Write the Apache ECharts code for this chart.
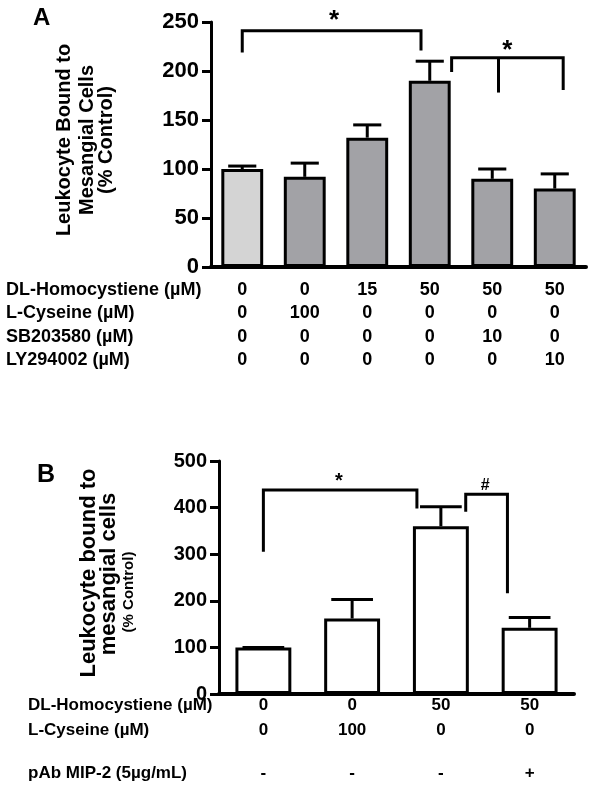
<!DOCTYPE html>
<html><head><meta charset="utf-8">
<script src="https://cdn.jsdelivr.net/npm/echarts@6/dist/echarts.min.js"></script>
<style>html,body{margin:0;padding:0;background:#fff}#c{width:600px;height:805px}</style>
</head><body><div id="c"></div>
<script>
// ---------- Panel A data ----------
const groupsA = ['A1', 'A2', 'A3', 'A4', 'A5', 'A6'];
const meanA = [100, 92, 132, 190, 90, 80];
const errTopA = [103, 106, 145, 210, 100, 95];
const rowLabelsA = ['DL-Homocystiene (\u00B5M)', 'L-Cyseine (\u00B5M)', 'SB203580 (\u00B5M)', 'LY294002 (\u00B5M)'];
const homA = ['0', '0', '15', '50', '50', '50'];
const cysA = ['0', '100', '0', '0', '0', '0'];
const sbA = ['0', '0', '0', '0', '10', '0'];
const lyA = ['0', '0', '0', '0', '0', '10'];
const titleA = ['Leukocyte Bound to', 'Mesangial Cells', '(% Control)'];
// brackets: x in category units, y in data units
const bracketsA = [
  { x1: 0, x2: 2.86, top: 241, y1: 219, y2: 221, mark: '*', sx: 1.47, sy: 257 },
  { x1: 3.35, x2: 5.135, top: 213.6, y1: 199, y2: 180.6, xm: 4.10, ym: 178, mark: '*', sx: 4.24, sy: 226.5 }
];

// ---------- Panel B data ----------
const groupsB = ['B1', 'B2', 'B3', 'B4'];
const meanB = [100, 162, 360, 142];
const errTopB = [100, 203, 402, 164];
const rowLabelsB = ['DL-Homocystiene (\u00B5M)', 'L-Cyseine (\u00B5M)', 'pAb MIP-2 (5\u00B5g/mL)'];
const homB = ['0', '0', '50', '50'];
const cysB = ['0', '100', '0', '0'];
const mipB = ['-', '-', '-', '+'];
const titleB = ['Leukocyte bound to', 'mesangial cells', '(% Control)'];
const bracketsB = [
  { x1: 0, x2: 1.73, top: 437.8, y1: 305, y2: 398, mark: '*', sx: 0.85, sy: 466 },
  { x1: 2.28, x2: 2.75, top: 428.5, y1: 391, y2: 216, mark: '#', sx: 2.50, sy: 448 }
];

const FF = '"Liberation Sans", Arial, sans-serif';

function errRender(capFrac) {
  return function (params, api) {
    const x = api.value(0), m = api.value(1), e = api.value(2);
    const p0 = api.coord([x, m]);
    const p1 = api.coord([x, e]);
    const half = api.size([1, 0])[0] * capFrac / 2;
    const st = { stroke: '#000', lineWidth: 3 };
    return { type: 'group', children: [
      { type: 'line', shape: { x1: p0[0], y1: p0[1], x2: p1[0], y2: p1[1] }, style: st },
      { type: 'line', shape: { x1: p1[0] - half, y1: p1[1], x2: p1[0] + half, y2: p1[1] }, style: st }
    ] };
  };
}

function bracketRender(list, fontSizes) {
  return function (params, api) {
    const b = list[params.dataIndex];
    const x0 = api.coord([0, 0])[0];
    const bw = api.size([1, 0])[0];
    const px = v => x0 + v * bw;
    const py = v => api.coord([0, v])[1];
    const st = { stroke: '#000', lineWidth: 3, fill: null };
    const children = [
      { type: 'polyline', shape: { points: [[px(b.x1), py(b.y1)], [px(b.x1), py(b.top)], [px(b.x2), py(b.top)], [px(b.x2), py(b.y2)]] }, style: st }
    ];
    if (b.xm != null) {
      children.push({ type: 'line', shape: { x1: px(b.xm), y1: py(b.top), x2: px(b.xm), y2: py(b.ym) }, style: st });
    }
    const fs = fontSizes[b.mark];
    const dy = b.mark === '*' ? fs * 0.22 : 0;
    children.push({ type: 'text', x: px(b.sx), y: py(b.sy) + dy,
      style: { text: b.mark, font: 'bold ' + fs + 'px ' + FF, fill: '#000', align: 'center', verticalAlign: 'middle' } });
    return { type: 'group', children };
  };
}

function rowAxis(grid, data, offset, margin, fs) {
  return { gridIndex: grid, type: 'category', data: data, position: 'bottom', offset: offset,
    axisLine: { show: false, onZero: false }, axisTick: { show: false }, splitLine: { show: false },
    axisLabel: { interval: 0, margin: margin, fontSize: fs, fontWeight: 'bold', color: '#000', fontFamily: FF } };
}

function mainX(grid, data) {
  return { gridIndex: grid, type: 'category', data: data, position: 'bottom',
    axisLine: { onZero: false, lineStyle: { color: '#000', width: 4 } },
    axisTick: { show: false }, axisLabel: { show: false }, splitLine: { show: false } };
}

function valY(grid, max, interval, fs) {
  return { gridIndex: grid, type: 'value', min: 0, max: max, interval: interval,
    axisLine: { show: true, lineStyle: { color: '#000', width: 3 } },
    axisTick: { show: true, length: 9, lineStyle: { color: '#000', width: 3 } },
    axisLabel: { margin: 12, fontSize: fs, fontWeight: 'bold', color: '#000', fontFamily: FF },
    splitLine: { show: false } };
}

const graphics = [];
function addText(x, y, text, fs, rot, align) {
  graphics.push({ type: 'text', x: x, y: y, rotation: rot || 0,
    style: { text: text, font: 'bold ' + fs + 'px ' + FF, fill: '#000',
      align: align || 'center', verticalAlign: 'middle' } });
}
addText(33, 18, 'A', 24, 0, 'left');
addText(37, 475, 'B', 25, 0, 'left');
// y titles
addText(64, 140, titleA[0], 20, Math.PI / 2);
addText(87, 140, titleA[1], 20, Math.PI / 2);
addText(106, 140, titleA[2], 20, Math.PI / 2);
addText(89, 573, titleB[0], 22, Math.PI / 2);
addText(109, 574, titleB[1], 22, Math.PI / 2);
addText(129, 592, titleB[2], 15, Math.PI / 2);
// table row labels
const rowYA = [290, 313, 337, 360];
rowLabelsA.forEach((t, i) => addText(6, rowYA[i], t, 18, 0, 'left'));
const rowYB = [705, 730, 773];
rowLabelsB.forEach((t, i) => addText(28, rowYB[i], t, 17, 0, 'left'));

const option = {
  animation: false,
  backgroundColor: '#fff',
  textStyle: { fontFamily: FF },
  grid: [
    { left: 211, top: 22, width: 375, height: 245 },
    { left: 219, top: 461, width: 355, height: 233 }
  ],
  xAxis: [
    mainX(0, groupsA),
    rowAxis(0, homA, 0, 14, 18),
    rowAxis(0, cysA, 23, 14, 18),
    rowAxis(0, sbA, 47, 14, 18),
    rowAxis(0, lyA, 70, 14, 18),
    mainX(1, groupsB),
    rowAxis(1, homB, 0, 3, 17),
    rowAxis(1, cysB, 25, 3, 17),
    rowAxis(1, mipB, 68, 3, 17)
  ],
  yAxis: [valY(0, 250, 50, 22), valY(1, 500, 100, 20)],
  series: [
    { type: 'bar', xAxisIndex: 0, yAxisIndex: 0, barWidth: '67%',
      itemStyle: { color: '#a2a2a6', borderColor: '#000', borderWidth: 3 },
      data: meanA.map((v, i) => i === 0 ? { value: v, itemStyle: { color: '#d4d4d4' } } : v) },
    { type: 'custom', xAxisIndex: 0, yAxisIndex: 0, z: 5, renderItem: errRender(0.45),
      encode: { x: 0, y: [1, 2] }, data: meanA.map((v, i) => [i, v, errTopA[i]]) },
    { type: 'custom', xAxisIndex: 0, yAxisIndex: 0, z: 5, clip: false,
      renderItem: bracketRender(bracketsA, { '*': 26, '#': 15 }),
      encode: { x: 0, y: 1 }, data: bracketsA.map((b, i) => [i, b.top]) },
    { type: 'bar', xAxisIndex: 5, yAxisIndex: 1, barWidth: '63%',
      itemStyle: { color: '#fff', borderColor: '#000', borderWidth: 3 },
      data: meanB },
    { type: 'custom', xAxisIndex: 5, yAxisIndex: 1, z: 5, renderItem: errRender(0.47),
      encode: { x: 0, y: [1, 2] }, data: meanB.map((v, i) => [i, v, errTopB[i]]) },
    { type: 'custom', xAxisIndex: 5, yAxisIndex: 1, z: 5, clip: false,
      renderItem: bracketRender(bracketsB, { '*': 20, '#': 16 }),
      encode: { x: 0, y: 1 }, data: bracketsB.map((b, i) => [i, b.top]) }
  ],
  graphic: graphics
};
const chart = echarts.init(document.getElementById('c'), null, { renderer: 'canvas' });
chart.setOption(option);
</script>
</body></html>
